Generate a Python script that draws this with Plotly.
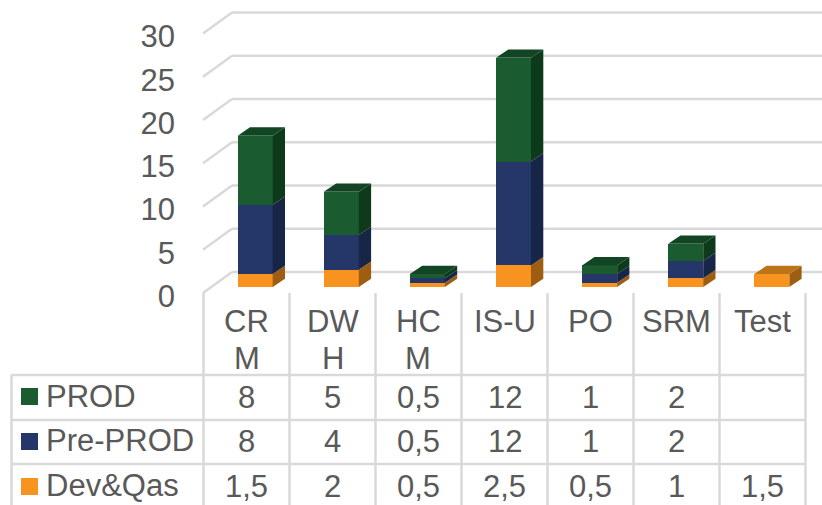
import plotly.graph_objects as go

categories = ["CRM", "DWH", "HCM", "IS-U", "PO", "SRM", "Test"]
category_lines = [["CR", "M"], ["DW", "H"], ["HC", "M"], ["IS-U"], ["PO"], ["SRM"], ["Test"]]
dev_qas = [1.5, 2, 0.5, 2.5, 0.5, 1, 1.5]
pre_prod = [8, 4, 0.5, 12, 1, 2, None]
prod = [8, 5, 0.5, 12, 1, 2, None]
y_ticks = [0, 5, 10, 15, 20, 25, 30]

W, H = 822, 505
PX_X, PX_Y = 86.1, 8.65          # pixels per category / per value unit
X0_PX, Y0_PX = 255.2, 287.0      # pixel of first bar centre / of bar base
GRID = "#D9D9D9"
TEXT = "#595959"
FONT = "Liberation Sans, Arial, sans-serif"
FS = 31
LW = 2.5

series = [
    ("Dev&Qas", dev_qas, "#F7931E", "#9E5E12", "#BC7418"),
    ("Pre-PROD", pre_prod, "#253668", "#172546", "#172546"),
    ("PROD", prod, "#1A5C30", "#0E3A1C", "#114523"),
]

BAR_W = 35 / PX_X
DX, DY = 12.3 / PX_X, 8.3 / PX_Y
WALL_FRONT_X, WALL_BACK_X = (203 - X0_PX) / PX_X, (232 - X0_PX) / PX_X
RIGHT_X = (W + 4 - X0_PX) / PX_X
WALL_FRONT_Y, WALL_BACK_Y = -6 / PX_Y, 15 / PX_Y
TICK_LABEL_Y = -9 / PX_Y


def px(x):
    return x / W


def py(y):
    return 1 - y / H


def fmt(v):
    if v is None:
        return ""
    return f"{v:g}".replace(".", ",")


fig = go.Figure()
shapes = []
annotations = []

# back-wall grid
for t in y_ticks:
    for x0, y0, x1, y1 in [
        (WALL_FRONT_X, t + WALL_FRONT_Y, WALL_BACK_X, t + WALL_BACK_Y),
        (WALL_BACK_X, t + WALL_BACK_Y, RIGHT_X, t + WALL_BACK_Y),
    ]:
        shapes.append(dict(type="line", xref="x", yref="y", x0=x0, y0=y0, x1=x1, y1=y1,
                           line=dict(color=GRID, width=LW), layer="below"))

# front faces: real stacked bars
positions = list(range(len(categories)))
for name, vals, col, _, _ in series:
    fig.add_trace(go.Bar(x=positions, y=vals, name=name, width=BAR_W,
                         marker=dict(color=col, line=dict(width=0)), showlegend=False))

# side and top faces
stack = [0.0] * len(categories)
tops = [sum(s[1][i] or 0 for s in series) for i in positions]
for name, vals, col, side, top in series:
    for i, v in enumerate(vals):
        if v is None:
            continue
        b, e = stack[i], stack[i] + v
        r = i + BAR_W / 2
        l = i - BAR_W / 2
        fig.add_trace(go.Scatter(x=[r, r + DX, r + DX, r, r], y=[b, b + DY, e + DY, e, b],
                                 mode="lines", fill="toself", fillcolor=side,
                                 line=dict(width=0, color=side), showlegend=False, hoverinfo="skip"))
        if abs(e - tops[i]) < 1e-9:
            fig.add_trace(go.Scatter(x=[l, r, r + DX, l + DX, l], y=[e, e, e + DY, e + DY, e],
                                     mode="lines", fill="toself", fillcolor=top,
                                     line=dict(width=0, color=top), showlegend=False, hoverinfo="skip"))
        stack[i] = e

# data table
COL_X = [203.5 + 86 * i for i in range(len(categories) + 1)]
ROW_Y = [375, 420, 464]
for x in COL_X:
    shapes.append(dict(type="line", xref="paper", yref="paper", x0=px(x), x1=px(x), y0=py(293), y1=py(505),
                       line=dict(color=GRID, width=LW)))
shapes.append(dict(type="line", xref="paper", yref="paper", x0=px(11.5), x1=px(11.5), y0=py(375), y1=py(505),
                   line=dict(color=GRID, width=LW)))
for y in ROW_Y:
    shapes.append(dict(type="line", xref="paper", yref="paper", x0=px(11), x1=px(COL_X[-1]), y0=py(y), y1=py(y),
                       line=dict(color=GRID, width=LW)))


def text(x, y, s, anchor="center"):
    annotations.append(dict(xref="paper", yref="paper", x=px(x), y=py(y), text=s, showarrow=False,
                            xanchor=anchor, yanchor="middle", font=dict(family=FONT, size=FS, color=TEXT),
                            borderpad=0, bgcolor="rgba(0,0,0,0)"))


for i, lines in enumerate(category_lines):
    cx = (COL_X[i] + COL_X[i + 1]) / 2
    for j, s in enumerate(lines):
        text(cx, 321 + 37 * j, s)

for (name, vals, col, _, _), y, key_y in zip(reversed(series), [397, 441, 486], [396.5, 441.5, 486.5]):
    shapes.append(dict(type="rect", xref="paper", yref="paper", x0=px(21), x1=px(38),
                       y0=py(key_y - 8.5), y1=py(key_y + 8.5), fillcolor=col, line=dict(width=0)))
    text(45, y - 1, name, "left")
    for i, v in enumerate(vals):
        if v is not None:
            text((COL_X[i] + COL_X[i + 1]) / 2, y, fmt(v))

fig.update_layout(
    width=W, height=H, margin=dict(l=0, r=0, t=0, b=0, pad=0),
    paper_bgcolor="white", plot_bgcolor="white", barmode="stack",
    showlegend=False, shapes=shapes, annotations=annotations,
    xaxis=dict(range=[-X0_PX / PX_X, (W - X0_PX) / PX_X], visible=False, fixedrange=True),
    yaxis=dict(range=[-(H - Y0_PX) / PX_Y, Y0_PX / PX_Y], anchor="free", position=175 / W,
               tickmode="array", tickvals=[t + TICK_LABEL_Y for t in y_ticks], ticktext=[str(t) for t in y_ticks],
               showgrid=False, zeroline=False, showline=False, ticks="",
               tickfont=dict(family=FONT, size=FS, color=TEXT), fixedrange=True),
)
fig.write_html("out.html", config=dict(displayModeBar=False),
               post_script="document.body.style.margin='0';document.documentElement.style.overflow='hidden';")
